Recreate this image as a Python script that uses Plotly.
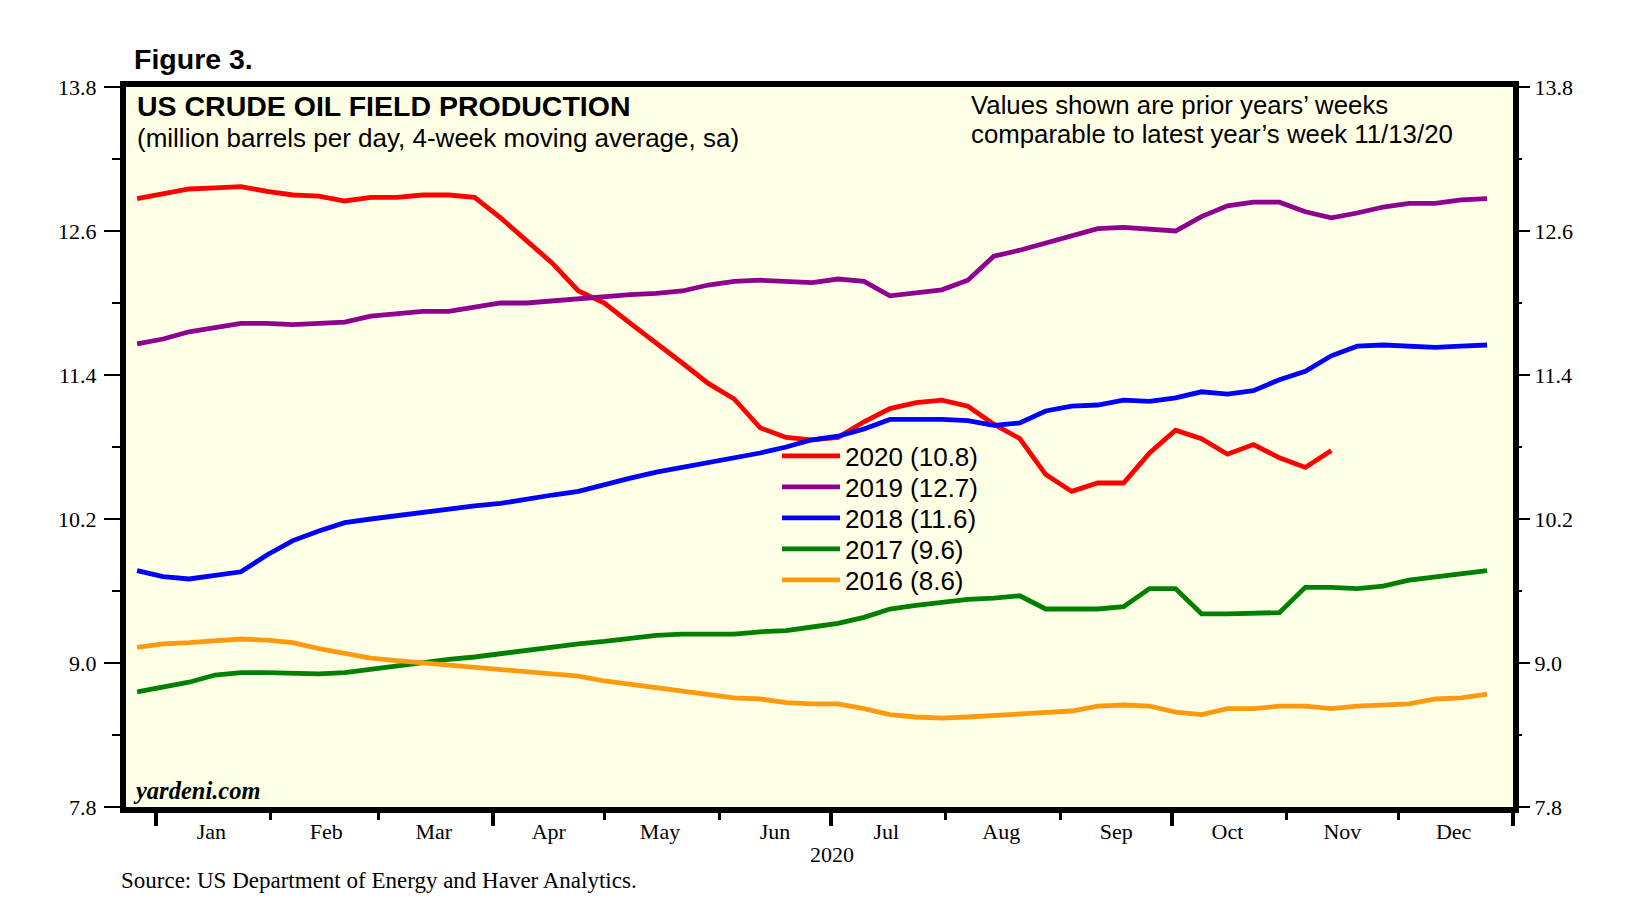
import pandas as pd
import plotly.graph_objects as go

# ---------------- data ----------------
weeks = pd.date_range("2019-12-27", periods=53, freq="7D")

y2020 = [12.87, 12.91, 12.95, 12.96, 12.97, 12.93, 12.90, 12.89, 12.85, 12.88,
         12.88, 12.90, 12.90, 12.88, 12.71, 12.52, 12.33, 12.10, 12.00, 11.83,
         11.67, 11.50, 11.33, 11.20, 10.96, 10.88, 10.86, 10.88, 11.01, 11.12,
         11.17, 11.19, 11.14, 10.99, 10.87, 10.57, 10.43, 10.50, 10.50, 10.75,
         10.94, 10.87, 10.74, 10.82, 10.71, 10.63, 10.77]

y2019 = [11.66, 11.70, 11.76, 11.79, 11.83, 11.83, 11.82, 11.83, 11.84, 11.89,
         11.91, 11.93, 11.93, 11.96, 12.00, 12.00, 12.02, 12.03, 12.06, 12.07,
         12.08, 12.10, 12.15, 12.18, 12.19, 12.18, 12.17, 12.20, 12.18, 12.06,
         12.08, 12.11, 12.19, 12.39, 12.44, 12.50, 12.57, 12.62, 12.63, 12.61,
         12.60, 12.72, 12.81, 12.84, 12.84, 12.76, 12.71, 12.75, 12.80, 12.83,
         12.83, 12.86, 12.87]

y2018 = [9.77, 9.72, 9.70, 9.73, 9.76, 9.90, 10.02, 10.10, 10.17, 10.20,
         10.23, 10.25, 10.29, 10.31, 10.33, 10.37, 10.40, 10.43, 10.49, 10.54,
         10.59, 10.63, 10.66, 10.70, 10.75, 10.80, 10.86, 10.89, 10.95, 11.03,
         11.03, 11.03, 11.02, 10.98, 11.00, 11.10, 11.14, 11.15, 11.19, 11.18,
         11.21, 11.26, 11.24, 11.27, 11.36, 11.43, 11.56, 11.64, 11.65, 11.64,
         11.63, 11.64, 11.65]

y2017 = [8.76, 8.80, 8.84, 8.90, 8.92, 8.92, 8.91, 8.91, 8.92, 8.95,
         8.98, 9.01, 9.03, 9.05, 9.08, 9.11, 9.13, 9.16, 9.18, 9.21,
         9.23, 9.24, 9.24, 9.24, 9.26, 9.27, 9.30, 9.33, 9.38, 9.45,
         9.48, 9.51, 9.53, 9.54, 9.56, 9.45, 9.45, 9.45, 9.47, 9.62,
         9.62, 9.41, 9.41, 9.41, 9.42, 9.63, 9.63, 9.62, 9.64, 9.69,
         9.72, 9.75, 9.77]

y2016 = [9.13, 9.16, 9.17, 9.19, 9.20, 9.19, 9.17, 9.12, 9.08, 9.04,
         9.02, 9.00, 8.98, 8.97, 8.95, 8.93, 8.91, 8.89, 8.85, 8.82,
         8.79, 8.76, 8.73, 8.71, 8.70, 8.67, 8.66, 8.66, 8.62, 8.57,
         8.55, 8.54, 8.55, 8.56, 8.58, 8.58, 8.60, 8.64, 8.65, 8.64,
         8.59, 8.57, 8.62, 8.62, 8.64, 8.64, 8.62, 8.64, 8.65, 8.66,
         8.70, 8.71, 8.74]

series_names = ["2020 (10.8)", "2019 (12.7)", "2018 (11.6)", "2017 (9.6)", "2016 (8.6)"]
series_values = [y2020, y2019, y2018, y2017, y2016]
series_colors = ["#FF0000", "#8E008E", "#0000FF", "#008000", "#FF9A0F"]

month_labels = ["Jan", "Feb", "Mar", "Apr", "May", "Jun",
                "Jul", "Aug", "Sep", "Oct", "Nov", "Dec"]
month_mids = pd.date_range("2020-01-01", periods=12, freq="MS") + pd.Timedelta(days=15)
month_starts = pd.date_range("2020-01-01", periods=13, freq="MS")
quarter_starts = pd.date_range("2020-01-01", periods=5, freq="QS")
y_ticks = [7.8, 9.0, 10.2, 11.4, 12.6, 13.8]

x_range = ["2019-12-24", "2021-01-01"]
y_range = [7.8, 13.8]

SANS = "Arial, Liberation Sans, sans-serif"
SERIF = "Times New Roman, Liberation Serif, serif"

W, H = 1639, 922
L, R, T, B = 118, 134, 79, 123
PW, PH = W - L - R, H - T - B


def px_x(x):
    return (x - L) / PW


def px_y(y):
    return (H - B - y) / PH


# ---------------- figure ----------------
fig = go.Figure()
legend_names = ["legend", "legend2", "legend3", "legend4", "legend5"]
for name, vals, col, lg in zip(series_names, series_values, series_colors, legend_names):
    fig.add_trace(go.Scatter(
        x=weeks[:len(vals)], y=vals, mode="lines", name=name, legend=lg,
        line=dict(color=col, width=4.8), hoverinfo="x+y"))

# invisible helper trace so the right axis and quarter ticks are drawn
fig.add_trace(go.Scatter(x=[weeks[0]], y=[y_range[0]], yaxis="y2", xaxis="x2",
                         mode="markers", marker=dict(opacity=0), showlegend=False,
                         hoverinfo="skip"))

legend_rows = [448, 479, 510, 541, 572]
legend_layout = {}
for lg, yc in zip(legend_names, legend_rows):
    legend_layout[lg] = dict(
        x=px_x(769), y=px_y(yc), xanchor="left", yanchor="middle",
        bgcolor="rgba(0,0,0,0)", borderwidth=0,
        font=dict(family=SANS, size=26, color="black"),
        itemwidth=58)

tick_style = dict(ticks="outside", ticklen=16, tickwidth=2, tickcolor="black")
minor_y = dict(dtick=0.6, tick0=7.8, ticks="outside", ticklen=8,
               tickwidth=2, tickcolor="black", showgrid=False)

fig.update_layout(
    width=W, height=H,
    margin=dict(l=L, r=R, t=T, b=B),
    paper_bgcolor="white",
    plot_bgcolor="#FFFFE5",
    font=dict(family=SERIF, size=22, color="black"),
    showlegend=True,
    **legend_layout,
    xaxis=dict(
        type="date", range=x_range,
        tickmode="array", tickvals=list(month_mids), ticktext=month_labels,
        ticks="", showgrid=False, zeroline=False,
        showline=True, linecolor="black", linewidth=6, mirror=True,
        tickfont=dict(family=SERIF, size=22),
        minor=dict(tickmode="array", tickvals=list(month_starts),
                   ticks="outside", ticklen=7, tickwidth=3, tickcolor="black",
                   showgrid=False),
    ),
    xaxis2=dict(
        type="date", range=x_range, overlaying="x", anchor="y", side="bottom",
        tickmode="array", tickvals=list(quarter_starts),
        ticks="outside", ticklen=18, tickwidth=4, tickcolor="black",
        showticklabels=False, showgrid=False, zeroline=False, showline=False,
    ),
    yaxis=dict(
        range=y_range, tickmode="array", tickvals=y_ticks,
        ticktext=[f"{v:.1f}" for v in y_ticks], **tick_style,
        showgrid=False, zeroline=False, ticklabelstandoff=3,
        showline=True, linecolor="black", linewidth=6, mirror=True,
        tickfont=dict(family=SERIF, size=22), minor=minor_y,
    ),
    yaxis2=dict(
        range=y_range, overlaying="y", side="right", anchor="x",
        tickmode="array", tickvals=y_ticks,
        ticktext=[f"{v:.1f}" for v in y_ticks], **tick_style,
        showgrid=False, zeroline=False, showline=False,
        tickfont=dict(family=SERIF, size=22), minor=minor_y,
    ),
)

annotations = [
    dict(text="<b>Figure 3.</b>", x=124, y=51, font=dict(family=SANS, size=28.5)),
    dict(text="<b>US CRUDE OIL FIELD PRODUCTION</b>", x=127, y=98,
         font=dict(family=SANS, size=28.5)),
    dict(text="(million barrels per day, 4-week moving average, sa)", x=127, y=130,
         font=dict(family=SANS, size=26)),
    dict(text="Values shown are prior years\u2019 weeks", x=961, y=96.5,
         font=dict(family=SANS, size=25.8)),
    dict(text="comparable to latest year\u2019s week 11/13/20", x=961, y=126,
         font=dict(family=SANS, size=25.8)),
    dict(text="<b><i>yardeni.com</i></b>", x=123, y=782,
         font=dict(family=SERIF, size=24.5)),
    dict(text="2020", x=824, y=846, font=dict(family=SERIF, size=22), xanchor="center"),
    dict(text="Source: US Department of Energy and Haver Analytics.", x=111, y=872,
         font=dict(family=SERIF, size=23)),
]
for a in annotations:
    fig.add_annotation(
        text=a["text"], xref="paper", yref="paper",
        x=px_x(a["x"]), y=px_y(a["y"]),
        xanchor=a.get("xanchor", "left"), yanchor="middle",
        showarrow=False, font=dict(color="black", **a["font"]))

fig.write_html("out.html")
